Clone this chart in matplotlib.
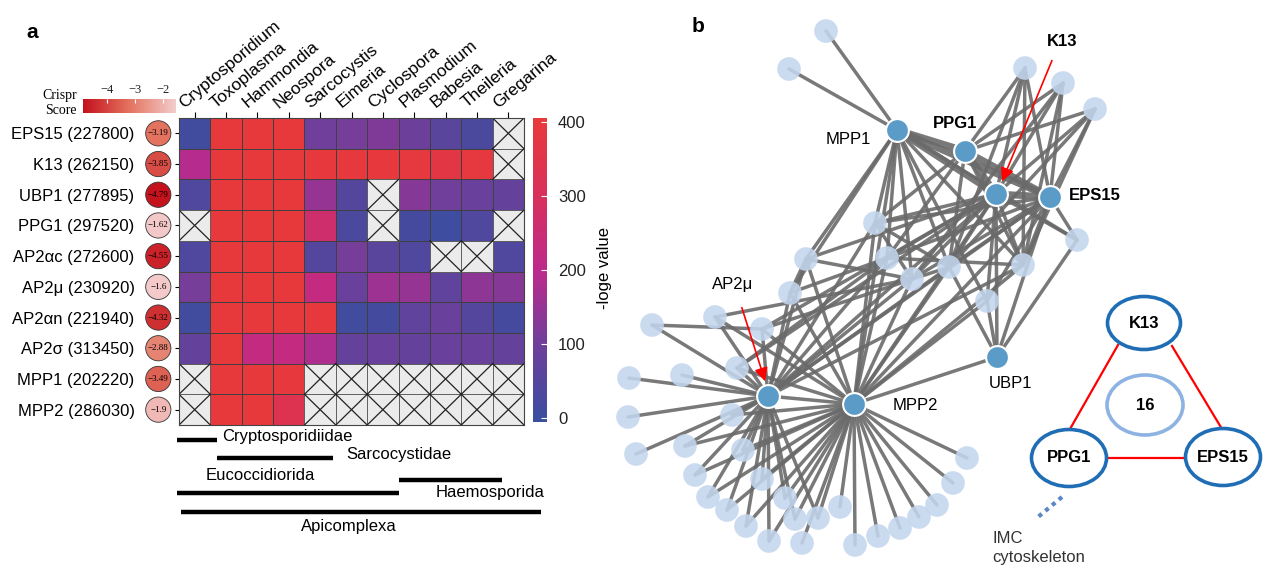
import numpy as np
import matplotlib.pyplot as plt
from matplotlib.colors import LinearSegmentedColormap, Normalize
from matplotlib.patches import Rectangle, Ellipse
from matplotlib.transforms import ScaledTranslation, blended_transform_factory

plt.rcParams['font.family'] = ['Liberation Sans', 'DejaVu Sans']
plt.rcParams['font.size'] = 12

W, H = 1271, 582

# ---- panel a data ----
genera = ['Cryptosporidium', 'Toxoplasma', 'Hammondia', 'Neospora', 'Sarcocystis',
          'Eimeria', 'Cyclospora', 'Plasmodium', 'Babesia', 'Theileria', 'Gregarina']
proteins = ['EPS15 (227800)', 'K13 (262150)', 'UBP1 (277895)', 'PPG1 (297520)',
            'AP2αc (272600)', 'AP2μ (230920)', 'AP2αn (221940)', 'AP2σ (313450)',
            'MPP1 (202220)', 'MPP2 (286030)']
crispr = [-3.19, -3.85, -4.79, -1.62, -4.55, -1.6, -4.32, -2.88, -3.49, -1.9]
nan = np.nan
loge = np.array([
    [10, 400, 400, 400, 100, 110, 120, 95, 60, 30, nan],
    [190, 400, 400, 400, 395, 395, 395, 390, 370, 390, nan],
    [40, 400, 400, 400, 150, 50, nan, 130, 100, 90, 80],
    [nan, 400, 400, 400, 265, 30, nan, 20, 5, 40, nan],
    [40, 400, 400, 400, 50, 110, 60, 40, nan, nan, 40],
    [110, 400, 400, 400, 225, 90, 160, 150, 70, 140, 130],
    [10, 400, 400, 400, 395, 10, 15, 70, 90, 50, 20],
    [80, 400, 225, 225, 180, 80, 90, 80, 90, 90, 80],
    [nan, 400, 400, 395, nan, nan, nan, nan, nan, nan, nan],
    [nan, 400, 400, 335, nan, nan, nan, nan, nan, nan, nan],
])
clades = ['Cryptosporidiidae', 'Sarcocystidae', 'Eucoccidiorida', 'Haemosporida', 'Apicomplexa']
clade_first = [0, 1, 0, 7, 0]
clade_last = [0, 4, 6, 9, 10]

# ---- panel b data (network layout) ----
hub_names = ['MPP1', 'PPG1', 'K13', 'EPS15', 'AP2μ', 'MPP2', 'UBP1']
hub_x = [897, 965, 996, 1050, 768, 854, 997]
hub_y = [130, 151, 194, 197, 396, 404, 357]
light_x = [826, 789, 1025, 1063, 1095, 1077, 875, 806, 887, 912, 949, 1023, 790, 987,
           652, 715, 762, 629, 682, 737, 628, 732, 636, 685, 743, 695, 762, 708, 785,
           727, 840, 746, 795, 818, 769, 802, 855, 878, 900, 919, 937, 953, 967]
light_y = [31, 69, 68, 83, 109, 240, 223, 259, 258, 279, 267, 265, 293, 301,
           325, 317, 329, 378, 375, 368, 417, 415, 454, 446, 450, 475, 479, 497, 498,
           510, 507, 526, 519, 518, 541, 543, 545, 536, 528, 517, 505, 483, 458]
neighbours = {
    0: [7, 8, 13, 14, 15, 16, 17, 18, 20, 5, 12, 19],
    1: [9, 10, 11, 13, 15, 17, 18],
    2: [9, 10, 11, 12, 13, 14, 15, 16, 17, 18, 20, 6, 4, 5, 23, 26],
    3: [9, 10, 11, 12, 13, 15, 16, 17, 18, 20, 6, 5, 4],
    5: [13, 14, 15, 16, 17, 18, 19, 20, 22, 23, 26, 28, 30, 31, 32, 33, 34, 35, 36, 37,
        38, 39, 40, 41, 42, 43, 44, 45, 46, 47, 48, 49, 4],
    4: [13, 14, 15, 16, 17, 18, 19, 21, 22, 23, 24, 25, 26, 27, 28, 29, 30, 31, 32, 33,
        34, 35, 36, 38, 39, 40, 41],
    6: [20, 5, 17, 12],
    9: [17, 18], 10: [18, 16], 11: [18, 17],
    13: [16, 17], 14: [16, 19], 15: [18, 19, 26], 22: [16], 23: [17, 21],
}
thick_edges = [(0, 1), (0, 2), (0, 3), (1, 2), (1, 3), (2, 3)]

fig = plt.figure(figsize=(W / 100, H / 100), dpi=100)


def fx(x):
    return x / W


def fy(y):
    return 1 - y / H


# heatmap
heat_cmap = LinearSegmentedColormap.from_list(
    'loge', ['#3a4ea0', '#6d3f9b', '#bd2a8c', '#d9305a', '#e8393a'])
heat_norm = Normalize(-5, 405)
ax = fig.add_axes([fx(179), fy(425), fx(524 - 179), (425 - 118) / H])
mesh = ax.pcolormesh(np.ma.masked_invalid(loge), cmap=heat_cmap, norm=heat_norm,
                     edgecolors='#404040', linewidth=0.6)
nr, nc = loge.shape
for i in range(nr):
    for j in range(nc):
        if np.isnan(loge[i, j]):
            ax.add_patch(Rectangle((j, i), 1, 1, fc='#ebebeb', ec='#555555', lw=0.6))
            ax.plot([j, j + 1], [i, i + 1], color='#222222', lw=0.9)
            ax.plot([j + 1, j], [i, i + 1], color='#222222', lw=0.9)
ax.set_xlim(0, nc)
ax.set_ylim(nr, 0)
for s in ax.spines.values():
    s.set_color('#444444')
ax.set_xticks(np.arange(nc) + 0.5)
ax.set_xticklabels(genera, rotation=40, ha='left', va='baseline', rotation_mode='anchor',
                   fontsize=12.5)
ax.tick_params(axis='x', top=True, bottom=False, labeltop=True, labelbottom=False,
               length=4, pad=3)
for lab in ax.get_xticklabels():
    lab.set_transform(lab.get_transform() + ScaledTranslation(-0.1, 0, fig.dpi_scale_trans))
ax.set_yticks(np.arange(nr) + 0.5)
ax.set_yticklabels(proteins)
ax.tick_params(axis='y', length=3, pad=29)

# crispr circles
cr_cmap = LinearSegmentedColormap.from_list('cr', ['#c4101c', '#e3735f', '#f3cccc'])
cr_norm = Normalize(-4.85, -1.55)
sc = ax.scatter(np.full(nr, -0.66), np.arange(nr) + 0.5, s=330, c=crispr, cmap=cr_cmap,
                norm=cr_norm, edgecolors='#333333', linewidths=0.6, clip_on=False, zorder=5)
for i, v in enumerate(crispr):
    ax.text(-0.66, i + 0.5, f'{v:g}'.replace('-', '\u2212'), ha='center', va='center',
            fontsize=6.5, family='Liberation Serif', zorder=6, clip_on=False)

cax2 = fig.add_axes([fx(83), fy(113), fx(93), 14 / H])
cb2 = fig.colorbar(sc, cax=cax2, orientation='horizontal', ticks=[-4, -3, -2])
cb2.outline.set_visible(False)
cax2.xaxis.set_ticks_position('top')
cax2.tick_params(axis='x', direction='in', colors='white', length=3, labelsize=9,
                 labelcolor='#222222', pad=2)
cax2.set_xticklabels(['\u22124', '\u22123', '\u22122'], family='Liberation Serif')
fig.text(fx(77), fy(103), 'Crispr\nScore', ha='right', va='center', fontsize=10,
         family='Liberation Serif', multialignment='right', linespacing=1.3)

cax = fig.add_axes([fx(533), fy(422), fx(14), (422 - 118) / H])
cb = fig.colorbar(mesh, cax=cax, ticks=[0, 100, 200, 300, 400])
cb.outline.set_visible(False)
cax.tick_params(direction='in', colors='white', length=4, labelsize=12,
                labelcolor='#222222', pad=8)
fig.text(fx(605), fy(268), '-loge value', rotation=90, ha='center', va='center', fontsize=12)

# clade bars
bt = blended_transform_factory(ax.transData, fig.transFigure)
bar_y = [440, 458, 493, 480, 512]
bar_x0 = [-0.06, 0.2, -0.06, 0.03, 0.06]
bar_x1 = [0.2, -0.1, 0.03, 0.3, 0.55]
for k in range(len(clades)):
    ax.plot([clade_first[k] + bar_x0[k], clade_last[k] + 1 + bar_x1[k]], [fy(bar_y[k])] * 2,
            color='black', lw=3.2, transform=bt, clip_on=False, solid_capstyle='butt')
lab_pos = [(222, 436, 'left'), (346, 455, 'left'), (260, 476, 'center'),
           (436, 492, 'left'), (349, 527, 'center')]
for k, (x, y, ha) in enumerate(lab_pos):
    fig.text(fx(x), fy(y), clades[k], ha=ha, va='center', fontsize=12)

fig.text(fx(32), fy(32), 'a', fontsize=15, fontweight='bold', ha='center', va='center')

# ---- panel b ----
axn = fig.add_axes([fx(600), 0, fx(671), 1])
axn.set_xlim(600, W)
axn.set_ylim(H, 0)
axn.axis('off')
xs = hub_x + light_x
ys = hub_y + light_y
for a, nb in neighbours.items():
    for b in nb:
        axn.plot([xs[a], xs[b]], [ys[a], ys[b]], color='#6a6a6a', lw=2.5, alpha=0.9,
                 zorder=1, solid_capstyle='round')
for a, b in thick_edges:
    axn.plot([xs[a], xs[b]], [ys[a], ys[b]], color='#6a6a6a', lw=5, alpha=0.9, zorder=1)
axn.scatter(light_x, light_y, s=290, color='#c3d6ee', alpha=0.88, edgecolors='none', zorder=2)
axn.scatter(hub_x, hub_y, s=270, color='#5b9bc8', edgecolors='white', linewidths=1.5, zorder=3)

hub_lab = [(848, 139, 'center', 'normal'), (955, 123, 'center', 'bold'),
           (1062, 42, 'center', 'bold'), (1095, 196, 'center', 'bold'),
           (733, 284, 'center', 'normal'), (915, 405, 'center', 'normal'),
           (1011, 383, 'center', 'normal')]
for k, (x, y, ha, wt) in enumerate(hub_lab):
    axn.text(x, y, hub_names[k], ha=ha, va='center', fontsize=12, fontweight=wt)
axn.annotate('', xy=(1001, 184), xytext=(1053, 58),
             arrowprops=dict(arrowstyle='-|>', color='red', lw=1.2, mutation_scale=20))
axn.annotate('', xy=(766, 384), xytext=(741, 305),
             arrowprops=dict(arrowstyle='-|>', color='red', lw=1.2, mutation_scale=20))
axn.text(698, 27, 'b', fontsize=15, fontweight='bold', ha='center', va='center')

# inset triangle
axn.plot([1118, 1070], [345, 429], color='red', lw=1.6, zorder=4)
axn.plot([1172, 1222], [346, 429], color='red', lw=1.6, zorder=4)
axn.plot([1107, 1186], [458, 458], color='red', lw=1.6, zorder=4)
tri = [('K13', 1144, 323, 73, 53, '#1f6db5'), ('PPG1', 1069, 458, 75, 57, '#1f6db5'),
       ('EPS15', 1223, 457, 75, 57, '#1f6db5'), ('16', 1145, 405, 76, 60, '#8db3e2')]
for name, x, y, w, h, ec in tri:
    axn.add_patch(Ellipse((x, y), w, h, fc='white', ec=ec, lw=2.6, zorder=5))
    axn.text(x, y, name, ha='center', va='center', fontsize=12, fontweight='bold', zorder=6)
axn.plot([1062, 1038], [497, 517], color='#5b87c5', lw=3, ls=(0, (1, 1.1)), zorder=4)
axn.text(992, 548, 'IMC\ncytoskeleton', ha='left', va='center', fontsize=12,
         color='#333333', linespacing=1.3)

fig.savefig('out.png', dpi=100)
